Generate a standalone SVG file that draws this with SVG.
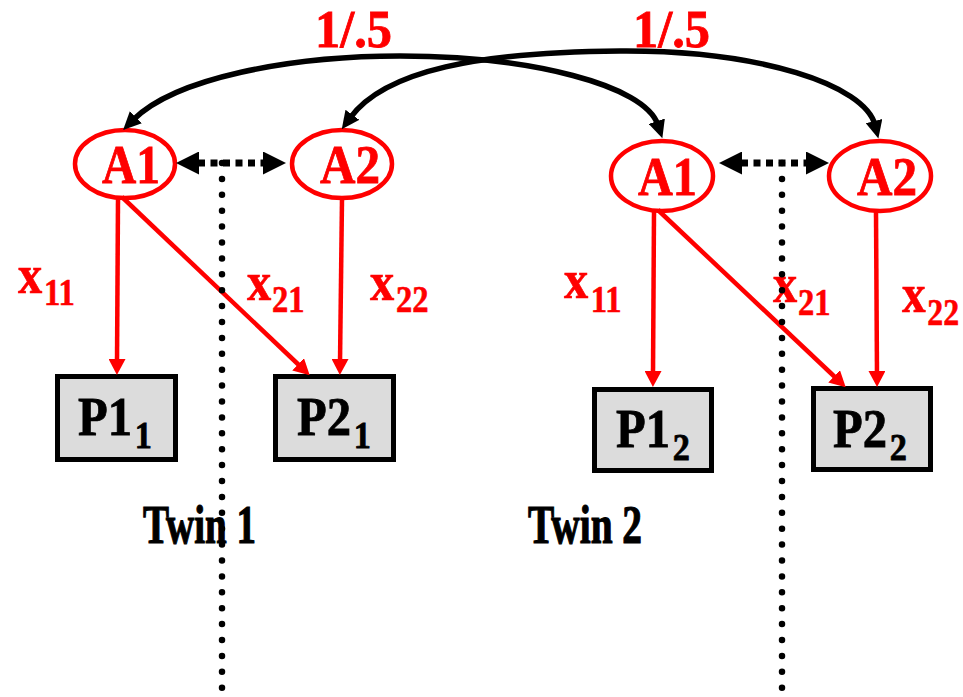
<svg xmlns="http://www.w3.org/2000/svg" width="963" height="697" viewBox="0 0 963 697">
  <style>
    .lat ellipse { fill: #fff; stroke: #ff0000; stroke-width: 4.5; }
    .lat text { font-family: "Liberation Serif", "Times New Roman", serif; font-weight: bold; font-size: 55px; fill: #ff0000; stroke: #ff0000; stroke-width: 0.8; }
    .obs rect { fill: #dcdcdc; stroke: #000; stroke-width: 5; }
    .obs text { font-family: "Liberation Serif", "Times New Roman", serif; font-weight: bold; font-size: 54px; fill: #000; stroke: #000; stroke-width: 0.8; }
    .obs .sub { font-size: 38px; }
    .path-lbl { font-family: "Liberation Serif", "Times New Roman", serif; font-weight: bold; font-size: 55px; fill: #ff0000; stroke: #ff0000; stroke-width: 0.6; }
    .path-lbl .sub { font-size: 37px; }
    .corr-lbl { font-family: "Liberation Serif", "Times New Roman", serif; font-weight: bold; font-size: 53px; fill: #ff0000; stroke: #ff0000; stroke-width: 0.8; }
    .twin { font-family: "Liberation Serif", "Times New Roman", serif; font-weight: bold; font-size: 54px; fill: #000; stroke: #000; stroke-width: 1.2; }
    .load { fill: none; stroke: #ff0000; stroke-width: 4.5; marker-end: url(#redHead); }
    .arc { fill: none; stroke: #000; stroke-width: 5.5; marker-start: url(#blkHead); marker-end: url(#blkHead); }
    .cov { fill: none; stroke: #000; stroke-width: 7; stroke-dasharray: 7 5.5; marker-start: url(#bigHead); marker-end: url(#bigHead); }
    .divider { fill: none; stroke: #000; stroke-width: 6.5; stroke-linecap: round; stroke-dasharray: 0 15.9; }
  </style>
  <defs>
    <marker id="redHead" markerUnits="userSpaceOnUse" viewBox="0 0 16 17" markerWidth="16" markerHeight="17" refX="4" refY="8.5" orient="auto">
      <path d="M0,0 L16,8.5 L0,17 z" fill="#ff0000"/>
    </marker>
    <marker id="blkHead" markerUnits="userSpaceOnUse" viewBox="0 0 18 17" markerWidth="18" markerHeight="17" refX="4" refY="8.5" orient="auto-start-reverse">
      <path d="M0,0 L18,8.5 L0,17 z" fill="#000"/>
    </marker>
    <marker id="bigHead" markerUnits="userSpaceOnUse" viewBox="0 0 23 23" markerWidth="23" markerHeight="23" refX="1" refY="11.5" orient="auto-start-reverse">
      <path d="M0,0 L23,11.5 L0,23 z" fill="#000"/>
    </marker>
  </defs>

  <rect width="963" height="697" fill="#fff"/>

  <!-- latent factors -->
  <g id="A1_t1" class="lat">
    <ellipse cx="125" cy="164" rx="50" ry="34"/>
    <text x="102" y="183" textLength="58" lengthAdjust="spacingAndGlyphs">A1</text>
  </g>
  <g id="A2_t1" class="lat">
    <ellipse cx="342" cy="164" rx="50" ry="34"/>
    <text x="320" y="183" textLength="60" lengthAdjust="spacingAndGlyphs">A2</text>
  </g>
  <g id="A1_t2" class="lat">
    <ellipse cx="662" cy="176" rx="51" ry="35"/>
    <text x="638" y="195" textLength="59" lengthAdjust="spacingAndGlyphs">A1</text>
  </g>
  <g id="A2_t2" class="lat">
    <ellipse cx="880" cy="176" rx="51" ry="35"/>
    <text x="857" y="195" textLength="60" lengthAdjust="spacingAndGlyphs">A2</text>
  </g>

  <!-- observed phenotypes -->
  <g id="P1_t1" class="obs">
    <rect x="57.5" y="376.5" width="118" height="83"/>
    <text transform="translate(78,435) scale(0.9,1)">P1<tspan class="sub" dx="3" dy="13">1</tspan></text>
  </g>
  <g id="P2_t1" class="obs">
    <rect x="275.5" y="376.5" width="118" height="83"/>
    <text transform="translate(297,435) scale(0.9,1)">P2<tspan class="sub" dx="3" dy="13">1</tspan></text>
  </g>
  <g id="P1_t2" class="obs">
    <rect x="594.5" y="389.5" width="117" height="81"/>
    <text transform="translate(616,447) scale(0.9,1)">P1<tspan class="sub" dx="3" dy="13">2</tspan></text>
  </g>
  <g id="P2_t2" class="obs">
    <rect x="813.5" y="388.5" width="117" height="81"/>
    <text transform="translate(833,447) scale(0.9,1)">P2<tspan class="sub" dx="3" dy="13">2</tspan></text>
  </g>

  <!-- twin captions -->
  <g id="twin_labels">
    <text class="twin" x="143" y="543" textLength="113" lengthAdjust="spacingAndGlyphs">Twin 1</text>
    <text class="twin" x="528" y="543" textLength="114" lengthAdjust="spacingAndGlyphs">Twin 2</text>
  </g>

  <!-- path coefficient labels -->
  <g id="labels">
    <text class="corr-lbl" x="315" y="47" textLength="77" lengthAdjust="spacingAndGlyphs">1/.5</text>
    <text class="corr-lbl" x="633" y="47" textLength="77" lengthAdjust="spacingAndGlyphs">1/.5</text>
    <text class="path-lbl" transform="translate(18,293) scale(0.88,1)">x<tspan class="sub" dx="2" dy="12">11</tspan></text>
    <text class="path-lbl" transform="translate(247,300) scale(0.88,1)">x<tspan class="sub" dx="1" dy="12">21</tspan></text>
    <text class="path-lbl" transform="translate(370,300) scale(0.88,1)">x<tspan class="sub" dx="2" dy="12">22</tspan></text>
    <text class="path-lbl" transform="translate(564,298) scale(0.88,1)">x<tspan class="sub" dx="3" dy="14">11</tspan></text>
    <text class="path-lbl" transform="translate(773,302) scale(0.88,1)">x<tspan class="sub" dx="1" dy="13">21</tspan></text>
    <text class="path-lbl" transform="translate(902,312) scale(0.86,1)">x<tspan class="sub" dx="2" dy="13">22</tspan></text>
  </g>

  <!-- connectors -->
  <g id="connectors">
    <!-- twin correlations between like factors -->
    <path class="arc" d="M133,120 C175,78 290,56 400,56 C530,56 645,85 658,125"/>
    <path class="arc" d="M350,118 C385,70 480,52 620,51 C760,50 865,85 875,125"/>
    <!-- within-twin factor covariances -->
    <line class="cov" x1="198" y1="163" x2="264" y2="163"/>
    <line class="cov" x1="741" y1="163" x2="807" y2="163"/>
    <!-- factor loadings -->
    <line class="load" x1="118" y1="199" x2="117" y2="363"/>
    <line class="load" x1="122" y1="197" x2="301" y2="367"/>
    <line class="load" x1="342" y1="199" x2="340" y2="363"/>
    <line class="load" x1="654" y1="212" x2="653" y2="375"/>
    <line class="load" x1="658" y1="210" x2="837" y2="379"/>
    <line class="load" x1="876" y1="212" x2="877" y2="375"/>
    <!-- twin dividers -->
    <line class="divider" x1="222" y1="163" x2="222" y2="697"/>
    <line class="divider" x1="782" y1="163" x2="782" y2="697"/>
  </g>
</svg>
